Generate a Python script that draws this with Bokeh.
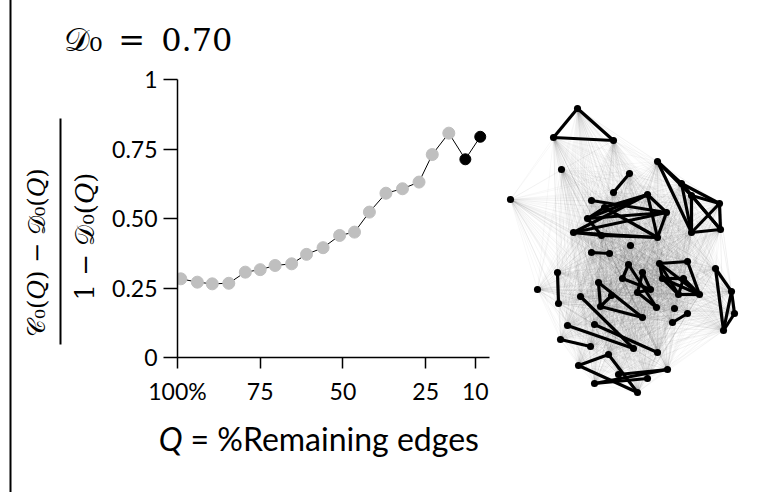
import math
from bokeh.plotting import figure
from bokeh.models import Range1d, FixedTicker, ColumnDataSource
from bokeh.core.properties import value
from bokeh.embed import file_html
from bokeh.resources import INLINE

# ---------------- data: left panel ----------------
Q_PCT = [99, 94, 89.5, 84.5, 79.5, 75, 70.5, 65.5, 61, 56, 51, 46.5, 42, 37, 32, 27, 23, 18, 13, 8.5]
SCORE = [0.283, 0.271, 0.265, 0.267, 0.307, 0.316, 0.331, 0.337, 0.371, 0.395,
         0.439, 0.451, 0.523, 0.591, 0.607, 0.631, 0.730, 0.807, 0.713, 0.794]
HIGHLIGHT = [0, 0, 0, 0, 0, 0, 0, 0, 0, 0, 0, 0, 0, 0, 0, 0, 0, 0, 1, 1]
X_TICKS = [100, 75, 50, 25, 10]
X_TICK_LABELS = ["100%", "75", "50", "25", "10"]
Y_TICKS = [0, 0.25, 0.5, 0.75, 1]
Y_TICK_LABELS = ["0", "0.25", "0.50", "0.75", "1"]
TITLE = "\U0001D49F\u2080\u2002=\u20020.70"
Y_NUM = "\U0001D49E\u2080(\U0001D444) \u2212 \U0001D49F\u2080(\U0001D444)"
Y_DEN = "1 \u2212 \U0001D49F\u2080(\U0001D444)"
X_LABEL_VAR = "Q"
X_LABEL_REST = "= %Remaining edges"

# ---------------- data: network (layout coordinates) ----------------
NODE_X = [577, 553, 613, 561, 510, 629, 613,
          591, 647, 604, 666, 587, 573, 601, 657,
          657, 681, 691, 719, 720, 691,
          630, 591, 609,
          628, 642, 622, 637, 650, 656,
          659, 687, 662, 683, 678, 699,
          715, 731, 734, 723,
          557, 558, 537,
          598, 600, 642, 611,
          580, 633, 674, 687, 672,
          567, 594, 657, 560, 590,
          608, 578, 637, 594, 667, 647, 618]
NODE_Y = [108, 137, 140, 169, 199, 173, 192,
          200, 194, 207, 212, 218, 232, 235, 237,
          161, 183, 195, 203, 229, 232,
          245, 252, 253,
          264, 272, 278, 292, 289, 307,
          263, 261, 278, 278, 294, 294,
          268, 291, 313, 330,
          272, 303, 289,
          282, 306, 317, 295,
          296, 348, 308, 313, 322,
          325, 324, 352, 339, 346,
          354, 365, 392, 383, 369, 378, 374]
EDGE_SRC = [0, 0, 1, 5,
            7, 8, 8, 10, 8, 8, 9, 11, 12, 12, 13, 12, 9, 11, 13,
            15, 15, 15, 16, 16, 16, 17, 17, 18, 18, 19, 17, 16,
            22,
            24, 24, 26, 25, 25, 27, 27,
            30, 30, 30, 30, 31, 32, 32, 32, 33, 33, 34,
            36, 36, 37, 38, 37,
            40,
            43, 43, 44, 44,
            47, 52, 53, 55, 50,
            58, 57, 58, 60, 60, 63]
EDGE_DST = [1, 2, 2, 6,
            10, 10, 14, 14, 11, 12, 14, 10, 13, 14, 14, 10, 8, 9, 11,
            16, 17, 20, 18, 19, 20, 18, 19, 19, 20, 20, 20, 17,
            23,
            26, 29, 28, 27, 28, 28, 29,
            31, 32, 34, 35, 35, 33, 34, 35, 35, 34, 35,
            39, 37, 38, 39, 39,
            41,
            44, 45, 45, 46,
            48, 48, 54, 56, 51,
            59, 59, 57, 61, 62, 61]

W, H = 757, 492
F_LEFT, F_RIGHT, F_TOP, F_BOTTOM = 177, 489, 79, 357  # chart frame in page pixels

p = figure(width=W, height=H, x_range=Range1d(100, 5.7), y_range=Range1d(0, 1),
           output_backend="svg", toolbar_location=None,
           min_border_left=F_LEFT, min_border_right=W - F_RIGHT,
           min_border_top=F_TOP, min_border_bottom=H - F_BOTTOM)
# a "page" coordinate system (pixels, y down) for decorations and the network layout
p.extra_x_ranges = {"page": Range1d(F_LEFT, F_RIGHT)}
p.extra_y_ranges = {"page": Range1d(F_BOTTOM, F_TOP)}
p.outline_line_color = None
p.xgrid.visible = False
p.ygrid.visible = False
p.background_fill_color = "white"
p.border_fill_color = "white"

tick_font = "Lato"
for ax in (p.xaxis[0], p.yaxis[0]):
    ax.axis_line_color = "black"
    ax.axis_line_width = 1.5
    ax.major_tick_line_color = "black"
    ax.major_tick_line_width = 1.5
    ax.minor_tick_line_color = None
    ax.major_tick_in = 0
    ax.major_label_text_font = tick_font
    ax.major_label_text_font_size = "23px"
    ax.major_label_text_color = "black"

p.xaxis.ticker = FixedTicker(ticks=X_TICKS)
p.xaxis.major_label_overrides = {t: l for t, l in zip(X_TICKS, X_TICK_LABELS)}
p.xaxis.major_tick_out = 11
p.xaxis.major_label_standoff = 8
p.yaxis.ticker = FixedTicker(ticks=Y_TICKS)
p.yaxis.major_label_overrides = {t: l for t, l in zip(Y_TICKS, Y_TICK_LABELS)}
p.yaxis.major_tick_out = 14
p.yaxis.major_label_standoff = 6
p.yaxis.major_label_orientation = "horizontal"

src = ColumnDataSource(dict(
    q=Q_PCT, s=SCORE,
    c=["black" if h else "#bfbfbf" for h in HIGHLIGHT],
    sz=[11 if h else 12 for h in HIGHLIGHT]))
p.line("q", "s", source=src, line_color="black", line_width=1)
p.scatter("q", "s", source=src, size="sz", fill_color="c", line_color="c")

PG = dict(x_range_name="page", y_range_name="page")
overlay = []

# ---------------- network ----------------
n = len(NODE_X)
faint_xs, faint_ys = [], []
for i in range(n):
    for j in range(i + 1, n):
        faint_xs.append([NODE_X[i], NODE_X[j]])
        faint_ys.append([NODE_Y[i], NODE_Y[j]])
overlay.append(p.multi_line(faint_xs, faint_ys, line_color="black", line_alpha=0.032,
                            line_width=1, **PG))
bold_xs = [[NODE_X[a], NODE_X[b]] for a, b in zip(EDGE_SRC, EDGE_DST)]
bold_ys = [[NODE_Y[a], NODE_Y[b]] for a, b in zip(EDGE_SRC, EDGE_DST)]
overlay.append(p.multi_line(bold_xs, bold_ys, line_color="black", line_width=3.2, **PG))
# nodes: round-capped dots
dot_xs = [[x - 0.05, x + 0.05] for x in NODE_X]
dot_ys = [[y, y] for y in NODE_Y]
overlay.append(p.multi_line(dot_xs, dot_ys, line_color="black", line_width=7,
                            line_cap="round", **PG))

# ---------------- texts and rules (page coordinates) ----------------
overlay.append(p.segment(x0=[60, 10], y0=[118, -10], x1=[60, 10], y1=[344, H + 10],
                         line_color="black", line_width=2, **PG))
serif = value("DejaVu Serif")
overlay.append(p.text(x=[63], y=[39], text=[TITLE], text_font=serif, text_font_size=value("32px"),
                      text_color="black", text_baseline="alphabetic", **PG))
overlay.append(p.text(x=[36], y=[252], text=[Y_NUM], angle=math.pi / 2,
                      text_align="center", text_baseline="middle", text_font=serif,
                      text_font_size=value("24px"), text_color="black", **PG))
overlay.append(p.text(x=[84], y=[236], text=[Y_DEN], angle=math.pi / 2,
                      text_align="center", text_baseline="middle", text_font=serif,
                      text_font_size=value("26px"), text_color="black", **PG))
overlay.append(p.text(x=[182], y=[438], text=[X_LABEL_VAR], text_align="right",
                      text_baseline="alphabetic", text_font=value(tick_font),
                      text_font_style="italic", text_font_size=value("32px"),
                      text_color="black", **PG))
overlay.append(p.text(x=[190], y=[438], text=[X_LABEL_REST], text_align="left",
                      text_baseline="alphabetic", text_font=value(tick_font),
                      text_font_size=value("32px"), text_color="black", **PG))
for r in overlay:
    r.level = "annotation"

open("out.html", "w").write(file_html(p, INLINE))
